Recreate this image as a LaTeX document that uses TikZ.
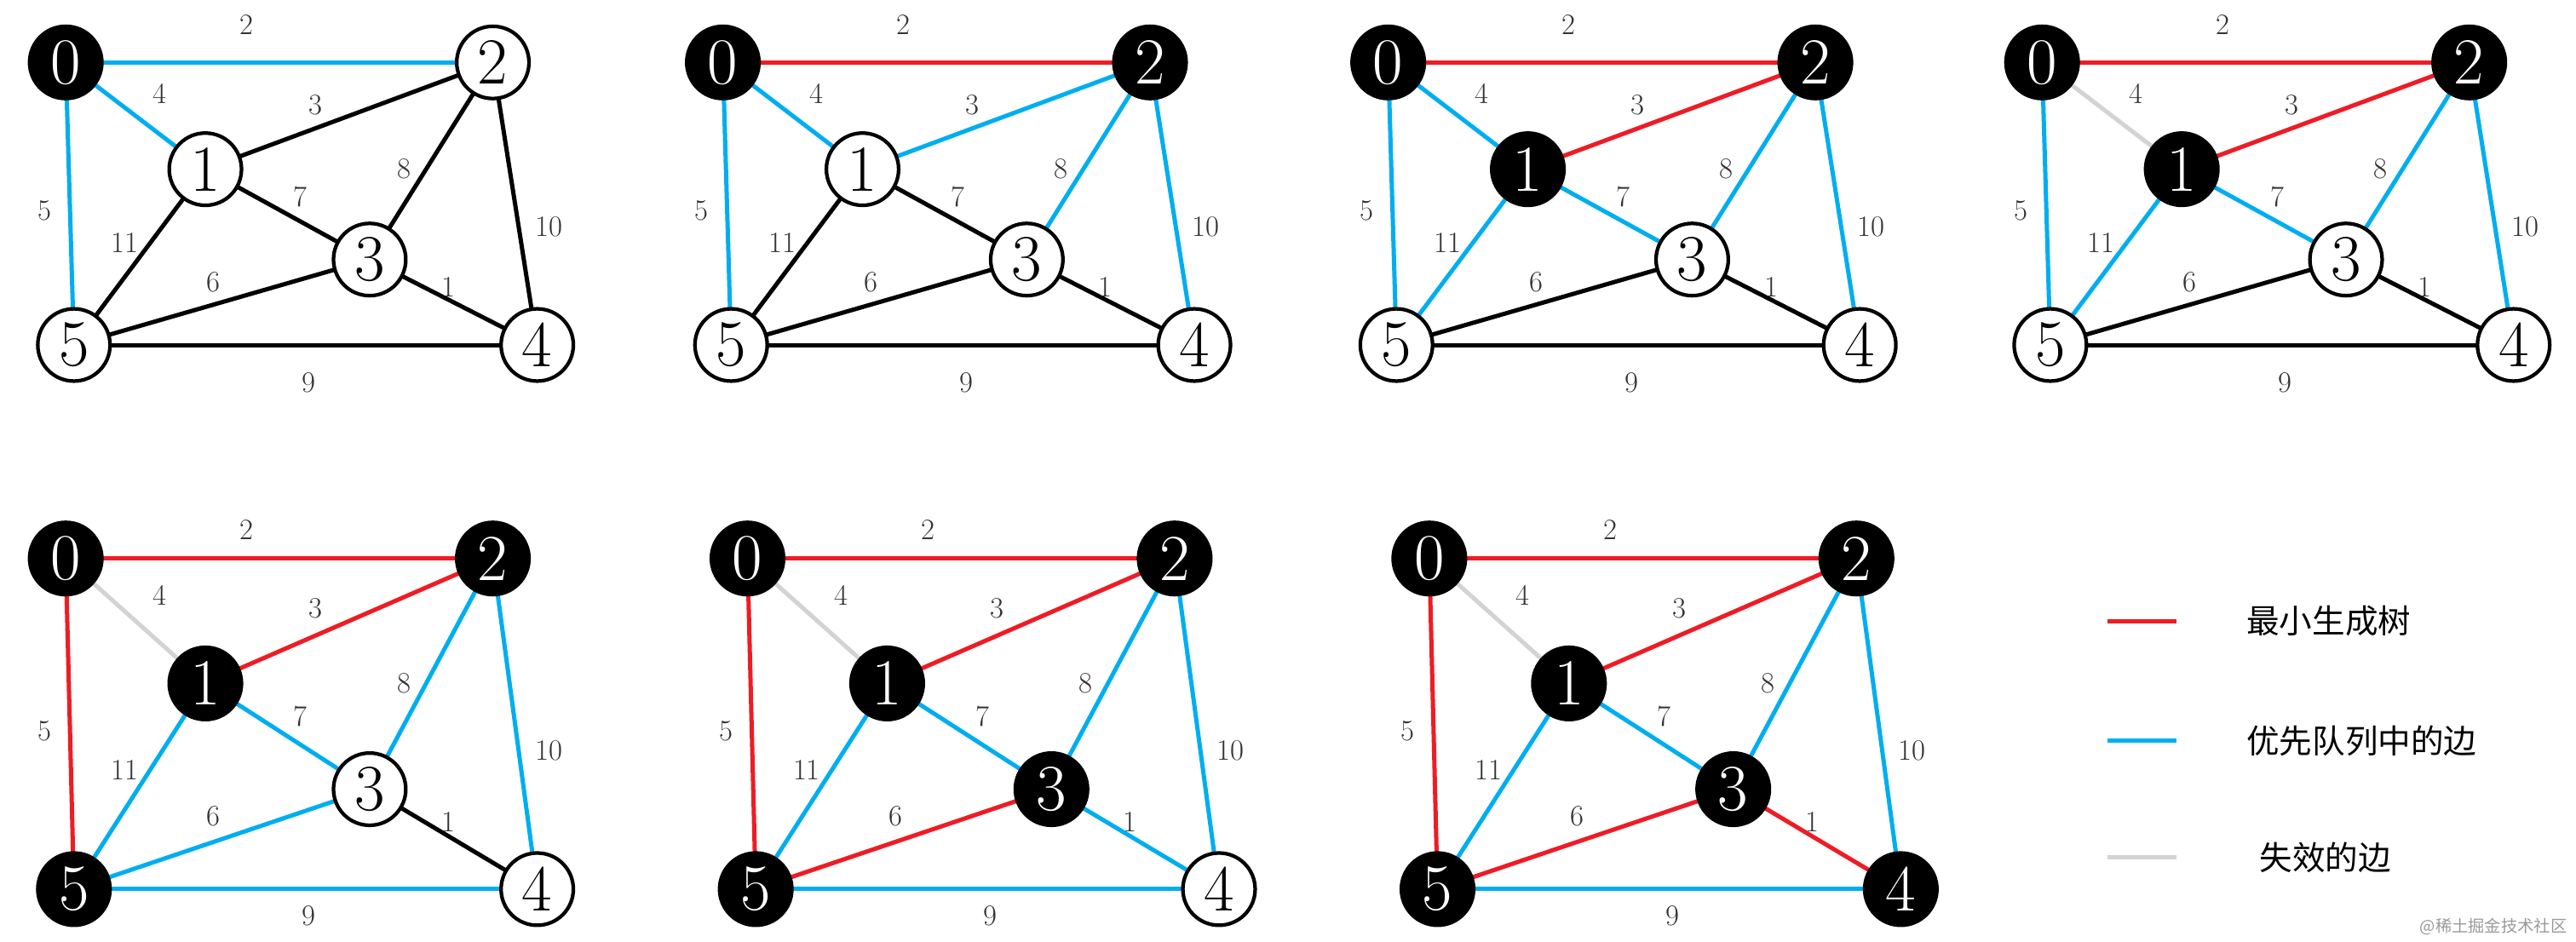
\documentclass[tikz,border=0pt]{standalone}
\usepackage{fontspec}
\newfontfamily\cjk{Noto Sans CJK SC}
\definecolor{cr}{HTML}{EE1C25}
\definecolor{cb}{HTML}{00AEEF}
\definecolor{cg}{HTML}{D3D3D3}
\tikzset{
 vx/.style={circle,draw=black,line width=2.2pt,minimum size=44pt,inner sep=0pt,fill=white,text=black,font=\fontsize{40}{40}\selectfont},
 vb/.style={fill=black,text=white},
 ed/.style={line width=2.6pt,black},
 R/.style={draw=cr}, B/.style={draw=cb}, K/.style={draw=black}, Gy/.style={draw=cg},
 lb/.style={font=\fontsize{18}{18}\selectfont,text=black!80},
 n0/.style={},n1/.style={},n2/.style={},n3/.style={},n4/.style={},n5/.style={},
 e02/.style={},e01/.style={},e05/.style={},e12/.style={},e13/.style={},e15/.style={},
 e23/.style={},e24/.style={},e35/.style={},e34/.style={},e54/.style={}
}
\def\twoY{-23}\def\nineY{195}
\newcommand\drawG[5]{%
\begin{scope}[shift={(#1,#2)},yscale=#3,#5]
\coordinate (#4a) at (0,0);
\coordinate (#4c) at (260,0);
\coordinate (#4b) at (85,65);
\coordinate (#4d) at (185,120);
\coordinate (#4f) at (5,172);
\coordinate (#4e) at (287,172);
\draw[ed,e02] (#4a)--(#4c); \draw[ed,e01] (#4a)--(#4b); \draw[ed,e05] (#4a)--(#4f);
\draw[ed,e12] (#4b)--(#4c); \draw[ed,e13] (#4b)--(#4d); \draw[ed,e15] (#4b)--(#4f);
\draw[ed,e23] (#4c)--(#4d); \draw[ed,e24] (#4c)--(#4e); \draw[ed,e35] (#4d)--(#4f);
\draw[ed,e34] (#4d)--(#4e); \draw[ed,e54] (#4f)--(#4e);
\node[vx,n0] (#4A) at (#4a) {0}; \node[vx,n2] (#4C) at (#4c) {2}; \node[vx,n1] (#4B) at (#4b) {1};
\node[vx,n3] (#4D) at (#4d) {3}; \node[vx,n5] (#4F) at (#4f) {5}; \node[vx,n4] (#4E) at (#4e) {4};
\node[lb] at (110,\twoY) {2}; \node[lb] at (57,19) {4}; \node[lb] at (152,26) {3};
\node[lb] at (-13,90) {5}; \node[lb] at (36,110) {11}; \node[lb] at (143,82) {7};
\node[lb] at (206,65) {8}; \node[lb] at (294,100) {10}; \node[lb] at (90,134) {6};
\node[lb] at (233,137) {1}; \node[lb] at (148,\nineY) {9};
\end{scope}}
\begin{document}
\begin{tikzpicture}[x=1pt,y=-1pt]
\useasboundingbox (0,0) rectangle (1568,573);
\drawG{40}{38}{1}{a}{n0/.style=vb,e02/.style=B,e01/.style=B,e05/.style=B}
\drawG{440}{38}{1}{b}{n0/.style=vb,n2/.style=vb,e02/.style=R,e01/.style=B,e05/.style=B,e12/.style=B,e23/.style=B,e24/.style=B}
\drawG{845}{38}{1}{c}{n0/.style=vb,n2/.style=vb,n1/.style=vb,e02/.style=R,e12/.style=R,e01/.style=B,e05/.style=B,e13/.style=B,e15/.style=B,e23/.style=B,e24/.style=B}
\drawG{1243}{38}{1}{d}{n0/.style=vb,n2/.style=vb,n1/.style=vb,e02/.style=R,e12/.style=R,e01/.style=Gy,e05/.style=B,e13/.style=B,e15/.style=B,e23/.style=B,e24/.style=B}
\def\twoY{-15}\def\nineY{186}
\drawG{40}{340}{1.17}{e}{n0/.style=vb,n2/.style=vb,n1/.style=vb,n5/.style=vb,e02/.style=R,e12/.style=R,e05/.style=R,e01/.style=Gy,e13/.style=B,e15/.style=B,e23/.style=B,e24/.style=B,e35/.style=B,e54/.style=B}
\drawG{455}{340}{1.17}{f}{n0/.style=vb,n2/.style=vb,n1/.style=vb,n5/.style=vb,n3/.style=vb,e02/.style=R,e12/.style=R,e05/.style=R,e35/.style=R,e01/.style=Gy,e13/.style=B,e15/.style=B,e23/.style=B,e24/.style=B,e54/.style=B,e34/.style=B}
\drawG{870}{340}{1.17}{g}{n0/.style=vb,n2/.style=vb,n1/.style=vb,n5/.style=vb,n3/.style=vb,n4/.style=vb,e02/.style=R,e12/.style=R,e05/.style=R,e35/.style=R,e34/.style=R,e01/.style=Gy,e13/.style=B,e15/.style=B,e23/.style=B,e24/.style=B,e54/.style=B}
\coordinate (l1a) at (1283,378); \coordinate (l1b) at (1325,378);
\coordinate (l2a) at (1283,451); \coordinate (l2b) at (1325,451);
\coordinate (l3a) at (1283,522); \coordinate (l3b) at (1325,522);
\draw[ed,draw=cr] (l1a)--(l1b); \draw[ed,draw=cb] (l2a)--(l2b); \draw[ed,draw=cg] (l3a)--(l3b);
\node[anchor=west,font=\cjk\fontsize{20}{20}\selectfont] (t1) at (1364,378) {最小生成树};
\node[anchor=west,font=\cjk\fontsize{20}{20}\selectfont] (t2) at (1364,451) {优先队列中的边};
\node[anchor=west,font=\cjk\fontsize{20}{20}\selectfont] (t3) at (1372,522) {失效的边};
\node[anchor=east,font=\cjk\fontsize{10}{10}\selectfont,text=black!40] (wm) at (1566,564) {@稀土掘金技术社区};
\end{tikzpicture}
\end{document}
